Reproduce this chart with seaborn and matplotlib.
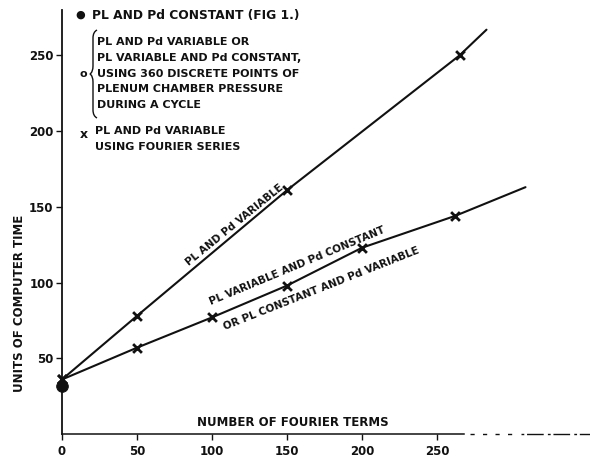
import numpy as np
import matplotlib
matplotlib.use("Agg")
import matplotlib.pyplot as plt
from matplotlib.path import Path
from matplotlib.patches import PathPatch
import pandas as pd
import seaborn as sns

# Computer time versus number of Fourier terms
terms_variable = [0, 50, 150, 265]
time_variable = [36, 78, 161, 250]
variable_line_end = (283, 267)

terms_mixed = [0, 50, 100, 150, 200, 262]
time_mixed = [36, 57, 77, 98, 123, 144]
mixed_line_end = (309, 163)

# Reference case with PL and Pd constant (Fig. 1)
terms_constant = [0]
time_constant = [32]

x_ticks = [0, 50, 100, 150, 200, 250]
y_ticks = [50, 100, 150, 200, 250]

sns.set_theme(style="ticks")
plt.rcParams["font.family"] = ["DejaVu Sans"]

W, H = 590, 461
fig = plt.figure(figsize=(W / 100, H / 100), dpi=100)
fig.patch.set_facecolor("white")
ax = fig.add_axes([62 / W, 1 - 434 / H, (W - 62) / W, (434 - 10) / H])
ax.set_facecolor("white")
ax.set_xlim(0, 352)
ax.set_ylim(0, 280)

df_a = pd.DataFrame({"terms": terms_variable + [variable_line_end[0]],
                     "time": time_variable + [variable_line_end[1]]})
df_b = pd.DataFrame({"terms": terms_mixed + [mixed_line_end[0]],
                     "time": time_mixed + [mixed_line_end[1]]})

ink = "#111111"
sns.lineplot(data=df_a, x="terms", y="time", ax=ax, color=ink, lw=1.5,
             sort=False, clip_on=False)
sns.lineplot(data=df_b, x="terms", y="time", ax=ax, color=ink, lw=1.5,
             sort=False, clip_on=False)
sns.scatterplot(x=terms_variable, y=time_variable, ax=ax, marker="x",
                s=40, color=ink, linewidth=2.0, clip_on=False, zorder=4)
sns.scatterplot(x=terms_mixed, y=time_mixed, ax=ax, marker="x",
                s=40, color=ink, linewidth=2.0, clip_on=False, zorder=4)
sns.scatterplot(x=terms_constant, y=time_constant, ax=ax, marker="o",
                s=70, color=ink, edgecolor=ink, clip_on=False, zorder=5)

# Axes styling: plain left spine, broken run-out of the bottom axis
for side in ("top", "right"):
    ax.spines[side].set_visible(False)
ax.spines["left"].set_linewidth(1.3)
ax.spines["left"].set_color(ink)
ax.spines["bottom"].set_linewidth(1.1)
ax.spines["bottom"].set_color(ink)
ax.spines["bottom"].set_bounds(0, 268)
ax.plot([272, 305], [0, 0], color=ink, lw=1.0, ls=(0, (3, 6)),
        clip_on=False)
ax.plot([306, 352], [0, 0], color=ink, lw=1.0, ls=(0, (2, 2, 12, 3)),
        clip_on=False)

ax.set_xticks(x_ticks)
ax.set_yticks(y_ticks)
ax.set_xticklabels([str(v) for v in x_ticks])
ax.set_yticklabels([str(v) for v in y_ticks])
ax.tick_params(axis="both", direction="out", length=4, width=1.0,
               colors=ink, labelsize=8.5, pad=2)
ax.tick_params(axis="x", pad=4)
for lab in ax.get_xticklabels() + ax.get_yticklabels():
    lab.set_fontweight("bold")
ax.set_xlabel("")
ax.set_ylabel("")

def fx(px):
    return px / W

def fy(py):
    return 1 - py / H

txt = dict(color=ink, fontsize=8.5, fontweight="bold")

fig.text(fx(20), fy(303), "UNITS OF COMPUTER TIME", rotation=90,
         ha="center", va="center", **txt)
fig.text(fx(293), fy(422), "NUMBER OF FOURIER TERMS",
         ha="center", va="center", **txt)

# Key drawn inside the plot
leg = dict(color=ink, fontsize=8, fontweight="bold", ha="left", va="center")
fig.text(fx(80), fy(15), "\u25cf", ha="center", va="center", color=ink,
         fontsize=8)
fig.text(fx(92), fy(15), "PL AND Pd CONSTANT (FIG 1.)", color=ink,
         fontsize=8.8, fontweight="bold", ha="left", va="center")
block = ["PL AND Pd VARIABLE OR",
         "PL VARIABLE AND Pd CONSTANT,",
         "USING 360 DISCRETE POINTS OF",
         "PLENUM CHAMBER PRESSURE",
         "DURING A CYCLE"]
for i, line in enumerate(block):
    fig.text(fx(97), fy(42 + 15.8 * i), line, **leg)
fig.text(fx(83), fy(74), "o", ha="center", va="center", color=ink,
         fontsize=8, fontweight="bold")
fig.text(fx(84), fy(134), "x", ha="center", va="center", color=ink,
         fontsize=9, fontweight="bold")
fig.text(fx(95), fy(131), "PL AND Pd VARIABLE", **leg)
fig.text(fx(95), fy(147), "USING FOURIER SERIES", **leg)

# Brace grouping the second key entry
bx, top, mid, bot = 93, 30, 74, 118
verts = [(bx + 4, top), (bx, top + 2), (bx, top + 8),
         (bx, mid - 8), (bx, mid - 2), (bx - 3, mid),
         (bx, mid + 2), (bx, mid + 8),
         (bx, bot - 8), (bx, bot - 2), (bx + 4, bot)]
verts = [(fx(x), fy(y)) for x, y in verts]
codes = [Path.MOVETO, Path.CURVE3, Path.CURVE3,
         Path.LINETO, Path.CURVE3, Path.CURVE3,
         Path.CURVE3, Path.CURVE3,
         Path.LINETO, Path.CURVE3, Path.CURVE3]
fig.add_artist(PathPatch(Path(verts, codes), transform=fig.transFigure,
                         fill=False, color=ink, lw=1.0))

# Curve labels, rotated to follow their lines
def slope_angle(xs, ys):
    p0 = ax.transData.transform((xs[0], ys[0]))
    p1 = ax.transData.transform((xs[-1], ys[-1]))
    return np.degrees(np.arctan2(p1[1] - p0[1], p1[0] - p0[0]))

ang_a = slope_angle(terms_variable, time_variable)
ang_b = slope_angle(terms_mixed, time_mixed)
lab = dict(color=ink, fontsize=7.5, fontweight="bold", ha="center",
           va="center", rotation_mode="anchor")
ax.text(115, 138, "PL AND Pd VARIABLE", rotation=ang_a, **lab)
ax.text(157, 111, "PL VARIABLE AND Pd CONSTANT", rotation=ang_b, **lab)
ax.text(173, 96, "OR PL CONSTANT AND Pd VARIABLE", rotation=ang_b - 1, **lab)

fig.savefig("out.png", dpi=100, facecolor="white")
